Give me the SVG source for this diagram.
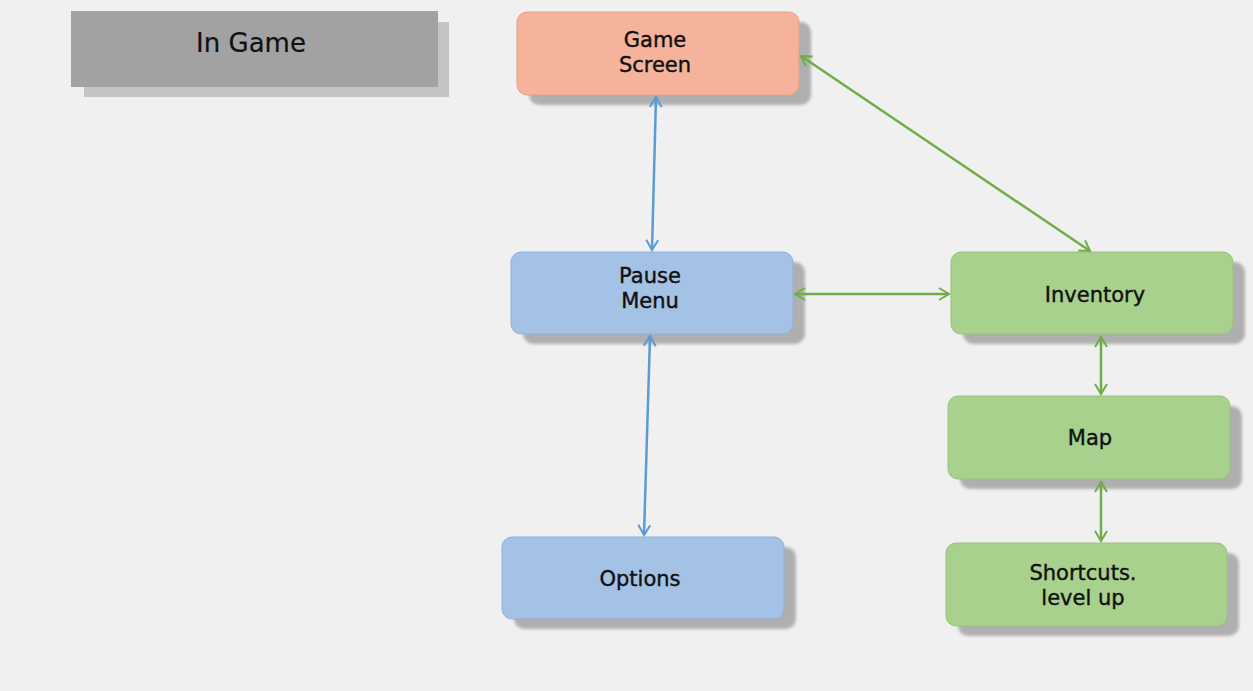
<svg xmlns="http://www.w3.org/2000/svg" width="1253" height="691" viewBox="0 0 1253 691">
<defs>
<filter id="blur" x="-10%" y="-20%" width="120%" height="140%"><feGaussianBlur stdDeviation="1.5"/></filter>
<marker id="ab" viewBox="0 0 14 14" refX="12" refY="7" markerWidth="14" markerHeight="14" markerUnits="userSpaceOnUse" orient="auto-start-reverse"><path d="M2,1 L12,7 L2,13" fill="none" stroke="#5b9bd5" stroke-width="2"/></marker>
<marker id="ag" viewBox="0 0 14 14" refX="12" refY="7" markerWidth="14" markerHeight="14" markerUnits="userSpaceOnUse" orient="auto-start-reverse"><path d="M2,1 L12,7 L2,13" fill="none" stroke="#70ad47" stroke-width="2"/></marker>
</defs>
<style>
.sh{fill:#a0a0a0;opacity:0.8;filter:url(#blur)}
.t{font-family:"DejaVu Sans",Verdana,sans-serif;font-size:21px;fill:#111;stroke:#111;stroke-width:0.4;text-anchor:middle}
.orange{fill:#f4b39a;stroke:#e8a084;stroke-width:1}
.blue{fill:#a4c2e6;stroke:#8fb0dc;stroke-width:1}
.green{fill:#a9d18e;stroke:#98c27c;stroke-width:1}
.cb{stroke:#5b9bd5;stroke-width:2.5;fill:none;marker-start:url(#ab);marker-end:url(#ab)}
.cg{stroke:#70ad47;stroke-width:2.5;fill:none;marker-start:url(#ag);marker-end:url(#ag)}
</style>
<rect width="1253" height="691" fill="#f0f0f0"/>
<g id="in-game">
<rect x="84" y="22" width="365" height="75" fill="#c4c4c4"/>
<rect x="71" y="11" width="367" height="76" fill="#a2a2a2"/>
<text x="251" y="52" class="t" style="font-size:26px;stroke-width:0.2">In Game</text>
</g>
<g id="game-screen">
<rect x="529" y="22" width="282" height="83" rx="10" class="sh"/>
<rect x="517" y="12" width="282" height="83" rx="10" class="orange"/>
<text x="655" y="47" class="t">Game</text>
<text x="655" y="72" class="t">Screen</text>
</g>
<g id="pause-menu">
<rect x="523" y="262" width="282" height="82" rx="10" class="sh"/>
<rect x="511" y="252" width="282" height="82" rx="10" class="blue"/>
<text x="650" y="283" class="t">Pause</text>
<text x="650" y="308" class="t">Menu</text>
</g>
<g id="options">
<rect x="514" y="547" width="282" height="82" rx="10" class="sh"/>
<rect x="502" y="537" width="282" height="82" rx="10" class="blue"/>
<text x="640" y="586" class="t">Options</text>
</g>
<g id="inventory">
<rect x="963" y="262" width="282" height="82" rx="10" class="sh"/>
<rect x="951" y="252" width="282" height="82" rx="10" class="green"/>
<text x="1095" y="302" class="t">Inventory</text>
</g>
<g id="map">
<rect x="960" y="406" width="282" height="83" rx="10" class="sh"/>
<rect x="948" y="396" width="282" height="83" rx="10" class="green"/>
<text x="1090" y="445" class="t">Map</text>
</g>
<g id="shortcuts">
<rect x="958" y="553" width="281" height="83" rx="10" class="sh"/>
<rect x="946" y="543" width="281" height="83" rx="10" class="green"/>
<text x="1083" y="580" class="t">Shortcuts.</text>
<text x="1083" y="605" class="t">level up</text>
</g>
<g id="connectors">
<line x1="656" y1="97" x2="652" y2="250" class="cb"/>
<line x1="650" y1="336" x2="644" y2="535" class="cb"/>
<line x1="801" y1="56" x2="1090" y2="251" class="cg"/>
<line x1="795" y1="294" x2="949" y2="294" class="cg"/>
<line x1="1101" y1="337" x2="1101" y2="394" class="cg"/>
<line x1="1101" y1="482" x2="1101" y2="541" class="cg"/>
</g>
</svg>
